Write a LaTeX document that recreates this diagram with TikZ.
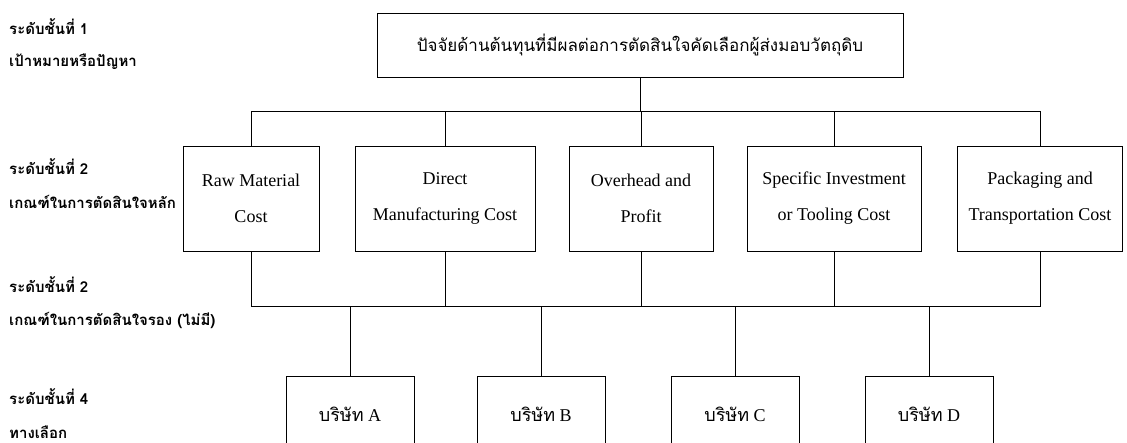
\documentclass[tikz,border=0pt]{standalone}
\usepackage{fontspec}
\setmainfont{Liberation Serif}
\newfontfamily\thai[Script=Thai]{Loma}
\begin{document}
\begin{tikzpicture}[x=1pt,y=-1pt,
  box/.style={draw, line width=0.9pt, align=center, inner sep=0pt,
    font=\fontsize{18}{36}\selectfont},
  lvl2/.style={box, minimum height=105pt},
  alt/.style={box, minimum width=128pt, minimum height=76pt},
  lab/.style={anchor=west, inner sep=0pt, font=\thai\bfseries\fontsize{15}{18}\selectfont},
  conn/.style={line width=0.9pt}]
\useasboundingbox (0,0) rectangle (1127,443);
\clip (0,0) rectangle (1127,443);
% left labels
\node[lab] (l1a) at (9,27) {ระดับชั้นที่ 1};
\node[lab] (l1b) at (9,62) {เป้าหมายหรือปัญหา};
\node[lab] (l2a) at (9,167) {ระดับชั้นที่ 2};
\node[lab] (l2b) at (9,202) {เกณฑ์ในการตัดสินใจหลัก};
\node[lab] (l3a) at (9,285) {ระดับชั้นที่ 2};
\node[lab] (l3b) at (9,320) {เกณฑ์ในการตัดสินใจรอง (ไม่มี)};
\node[lab] (l4a) at (9,397) {ระดับชั้นที่ 4};
\node[lab] (l4b) at (9,432) {ทางเลือก};
% goal
\node[box, minimum width=526pt, minimum height=64pt, font=\thai\fontsize{17}{20}\selectfont] (goal) at (640,45)
  {ปัจจัยด้านต้นทุนที่มีผลต่อการตัดสินใจคัดเลือกผู้ส่งมอบวัตถุดิบ};
% criteria
\node[lvl2, minimum width=136pt] (raw) at (251,198.5) {Raw Material\\Cost};
\node[lvl2, minimum width=180pt] (dir) at (445,198.5) {Direct\\Manufacturing Cost};
\node[lvl2, minimum width=144pt] (ovh) at (641,198.5) {Overhead and\\Profit};
\node[lvl2, minimum width=174pt] (spe) at (834,198.5) {Specific Investment\\or Tooling Cost};
\node[lvl2, minimum width=165pt] (pac) at (1040,198.5) {Packaging and\\Transportation Cost};
% alternatives
\node[alt] (ca) at (350,414) {{\thai บริษัท} A};
\node[alt] (cb) at (541,414) {{\thai บริษัท} B};
\node[alt] (cc) at (735,414) {{\thai บริษัท} C};
\node[alt] (cd) at (929,414) {{\thai บริษัท} D};
% connectors
\coordinate (t) at (641,111);
\coordinate (b) at (641,306);
\draw[conn] (goal.south) -- (goal.south |- t);
\draw[conn] (raw.north) -- (raw.north |- t) -- (pac.north |- t) -- (pac.north);
\draw[conn] (dir.north) -- (dir.north |- t);
\draw[conn] (ovh.north) -- (ovh.north |- t);
\draw[conn] (spe.north) -- (spe.north |- t);
\draw[conn] (raw.south) -- (raw.south |- b) -- (pac.south |- b) -- (pac.south);
\draw[conn] (dir.south) -- (dir.south |- b);
\draw[conn] (ovh.south) -- (ovh.south |- b);
\draw[conn] (spe.south) -- (spe.south |- b);
\draw[conn] (ca.north) -- (ca.north |- b);
\draw[conn] (cb.north) -- (cb.north |- b);
\draw[conn] (cc.north) -- (cc.north |- b);
\draw[conn] (cd.north) -- (cd.north |- b);
\end{tikzpicture}
\end{document}
